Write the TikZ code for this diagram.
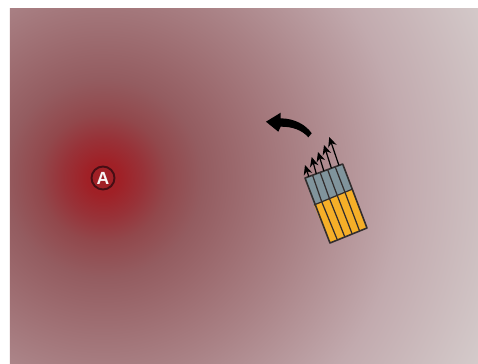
\documentclass[tikz,border=0pt]{standalone}
\usepackage{fontspec}
\setsansfont{Liberation Sans}
\usetikzlibrary{arrows.meta,calc}
\definecolor{heatcore}{RGB}{160,32,38}
\definecolor{heatnear}{RGB}{152,50,56}
\definecolor{heatinner}{RGB}{146,72,76}
\definecolor{heatmid}{RGB}{148,92,96}
\definecolor{heatfar}{RGB}{170,130,134}
\definecolor{heatpale}{RGB}{194,170,174}
\definecolor{heatedge}{RGB}{212,202,202}
\definecolor{ringdark}{RGB}{70,14,20}
\definecolor{coolgrey}{RGB}{128,148,156}
\definecolor{amber}{RGB}{245,175,40}
\definecolor{inkline}{RGB}{50,45,45}
\pgfdeclareradialshading{heatspot}{\pgfpoint{0bp}{0bp}}{color(0bp)=(heatcore); color(.5bp)=(heatcore); color(1.25bp)=(heatnear); color(2bp)=(heatinner); color(3.1bp)=(heatmid); color(6.25bp)=(heatfar); color(9.4bp)=(heatpale); color(13bp)=(heatedge); color(50bp)=(heatedge)}
\tikzset{
  tiphead/.style={-{Stealth[length=5.5pt,width=5pt]},black,line width=.7pt},
  cell/.style={draw=inkline,line width=.7pt,line join=round},
}
\begin{document}
\begin{tikzpicture}[x=.02cm,y=-.02cm]
\useasboundingbox (0,0) rectangle (478,363);
\begin{scope}
\clip (10,8) rectangle (478,363);
\shade[shading=heatspot] (103,178) circle (800);
\end{scope}
% probe corners
\coordinate (tl) at (305,178);
\coordinate (tr) at (342.7,164);
\coordinate (ml) at (314,205);
\coordinate (mr) at (352.7,189);
\coordinate (bl) at (330,243);
\coordinate (br) at (367,228);
\fill[coolgrey] (tl)--(tr)--(mr)--(ml)--cycle;
\fill[amber] (ml)--(mr)--(br)--(bl)--cycle;
\foreach \t in {.2,.4,.6,.8}{\draw[cell] ($(tl)!\t!(tr)$)--($(ml)!\t!(mr)$);
  \draw[cell] ($(ml)!\t!(mr)$)--($(bl)!\t!(br)$);}
\draw[cell] (ml)--(mr);
\draw[cell,line width=.9pt] (tl)--(tr)--(br)--(bl)--cycle;
% flow arrows
\foreach \t/\x/\y in {.1/305/165,.3/311.7/157,.5/318/152,.7/324/145,.9/329.3/137}{
  \draw[tiphead] ($(tl)!\t!(tr)$)--(\x,\y);}
% turn arrow
\fill[black] (311.7,133.3) .. controls (306,125) and (295,118.5) .. (280.7,118.3)
  -- (280.7,112.7) -- (266,121.7) -- (278.3,131.7) -- (280.7,126.7)
  .. controls (292,126.5) and (302,130) .. (308.3,137.3) -- cycle;
\node[circle,draw=ringdark,line width=1.1pt,fill=heatcore,inner sep=0pt,minimum size=.46cm,
  text=white!88!heatpale,font=\sffamily\bfseries] (siteA) at (103,178) {A};
\end{tikzpicture}
\end{document}
